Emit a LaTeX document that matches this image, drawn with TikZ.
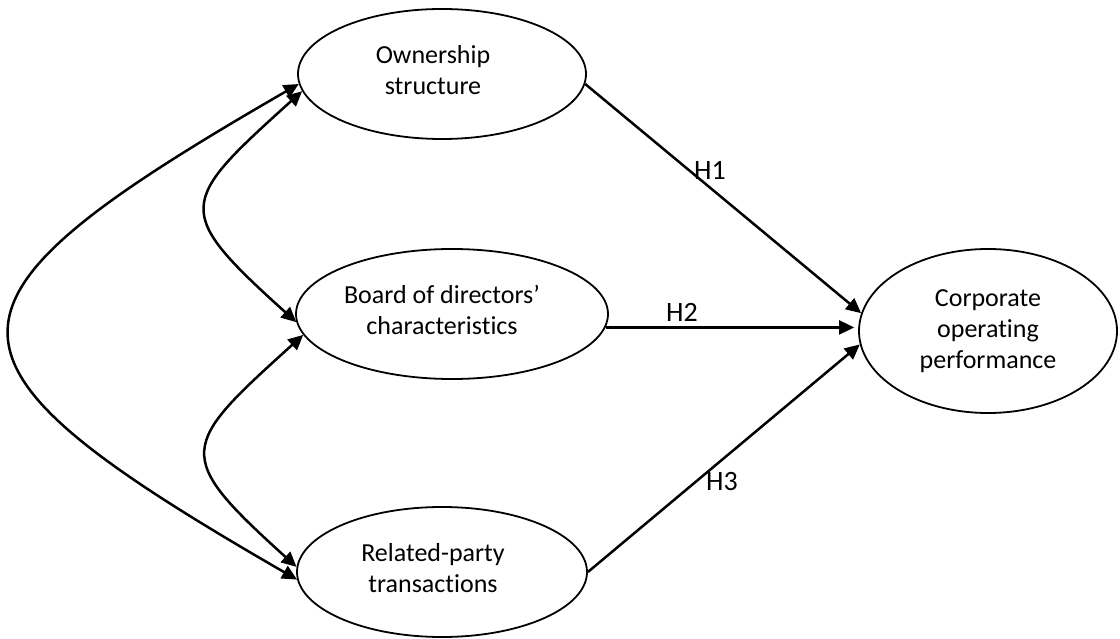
\documentclass[tikz,border=0pt]{standalone}
\usepackage{fontspec}
\setmainfont{Carlito}[RawFeature={-liga,-dlig}]
\usetikzlibrary{arrows.meta,shapes.geometric,calc}
\begin{document}
\begin{tikzpicture}[x=1pt,y=-1pt,
  oval/.style={draw, ellipse, line width=1.8pt, inner sep=0pt},
  txt/.style={align=center, font=\fontsize{26}{31}\selectfont, inner sep=0pt},
  hlab/.style={font=\fontsize{28}{32}\selectfont, inner sep=0pt},
  tip/.tip={Triangle[length=15pt,width=14pt]},
  arr/.style={line width=2.5pt, -tip},
  biarr/.style={line width=2.5pt, tip-tip}]
\useasboundingbox (0,0) rectangle (1120,639);
\fill[white] (0,0) rectangle (1120,639);
% ellipses
\node[oval, minimum width=288pt, minimum height=130pt] (own) at (442,74) {};
\node[oval, minimum width=312pt, minimum height=130pt] (board) at (452,314) {};
\node[oval, minimum width=290pt, minimum height=130pt] (rel) at (442,572) {};
\node[oval, minimum width=258pt, minimum height=164pt] (corp) at (988,331) {};
% texts
\node[txt] (ownt) at (433,70) {Ownership\\structure};
\node[txt] (boardt) at (442,310) {Board of directors’\\characteristics};
\node[txt] (relt) at (433,568) {Related-party\\transactions};
\node[txt] (corpt) at (988,331) {Corporate\\operating\\performance};
% hypothesis arrows
\draw[arr] (own.-4) -- (corp.172);
\draw[arr, shorten >=4pt] (board.-5) -- (board.-5 -| corp.west);
\draw[arr] (rel.0) -- (corp.186);
\node[hlab] (h1) at (710,170) {H1};
\node[hlab] (h2) at (682,312) {H2};
\node[hlab] (h3) at (722,482) {H3};
% correlation curves
\draw[biarr] (own.184) .. controls +(-383,221) and +(-383,-221) .. (rel.183);
\draw[biarr] (own.187) .. controls +(-124,112) and +(-124,-112) .. (board.183);
\draw[biarr] (board.188) .. controls +(-124,112) and +(-124,-112) .. (rel.178);
\end{tikzpicture}
\end{document}
